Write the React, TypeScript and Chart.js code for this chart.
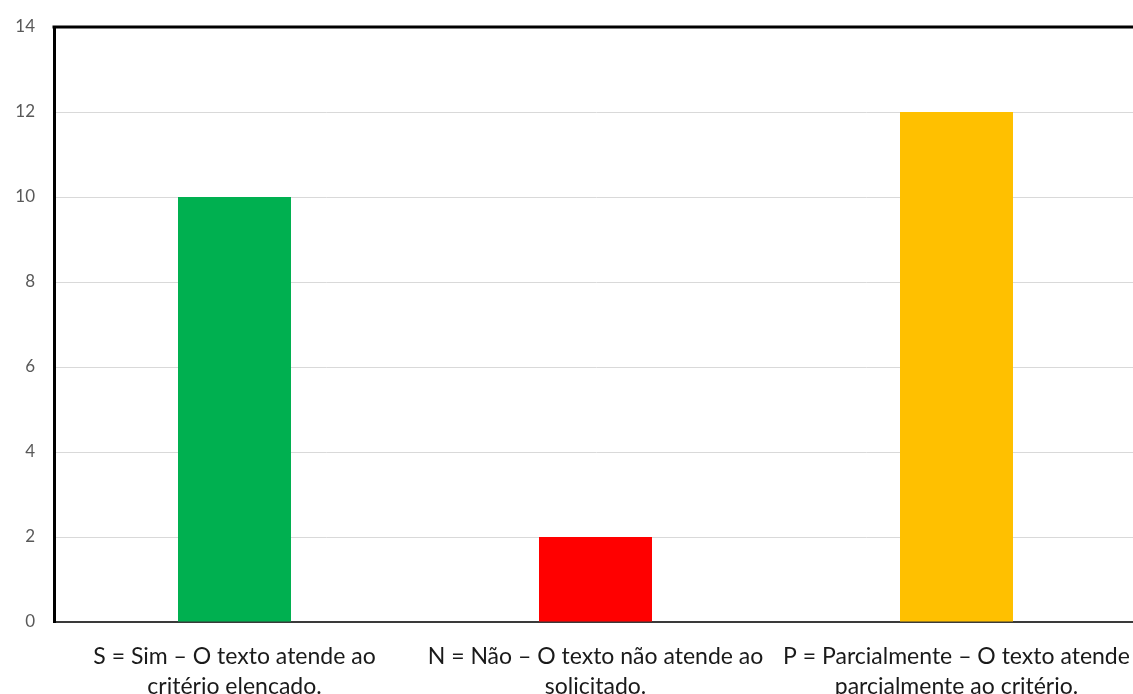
import React, { useEffect, useRef } from "react";
import { Chart, registerables } from "chart.js";

Chart.register(...registerables);

const categories: string[][] = [
  ["S = Sim – O texto atende ao", "critério elencado."],
  ["N = Não – O texto não atende ao", "solicitado."],
  ["P = Parcialmente – O texto atende", "parcialmente ao critério."],
];
const values: number[] = [10, 2, 12];
const barColors: string[] = ["#00B050", "#FF0000", "#FFC000"];
const yTicks: number[] = [0, 2, 4, 6, 8, 10, 12, 14];

const FONT = "Lato, 'Open Sans', 'Liberation Sans', sans-serif";

const topBorder = {
  id: "topBorder",
  afterDraw(chart: any) {
    const { ctx, chartArea } = chart;
    ctx.save();
    ctx.strokeStyle = "#000000";
    ctx.lineWidth = 3;
    ctx.beginPath();
    ctx.moveTo(chartArea.left - 1.5, chartArea.top);
    ctx.lineTo(chartArea.right + 10, chartArea.top);
    ctx.stroke();
    ctx.restore();
  },
};

export default function App() {
  const ref = useRef<HTMLCanvasElement | null>(null);
  useEffect(() => {
    document.documentElement.style.overflow = "hidden";
    document.body.style.overflow = "hidden";
    document.body.style.margin = "0";
    const canvas = ref.current;
    if (!canvas) return;
    const chart = new Chart(canvas, {
      type: "bar",
      data: {
        labels: categories,
        datasets: [
          {
            data: values,
            backgroundColor: barColors,
            borderWidth: 0,
            barPercentage: 0.313,
            categoryPercentage: 1,
          },
        ],
      },
      plugins: [topBorder],
      options: {
        responsive: false,
        animation: false,
        maintainAspectRatio: false,
        layout: { padding: { top: 27, right: 0, left: 0, bottom: 0 } },
        plugins: {
          legend: { display: false },
          tooltip: { enabled: false },
        },
        scales: {
          x: {
            grid: { display: false, drawTicks: false },
            border: { display: true, color: "#3a3a3a", width: 2 },
            ticks: {
              color: "#1a1a1a",
              font: { family: FONT, size: 23, lineHeight: 1.3 },
              padding: 20,
              maxRotation: 0,
              autoSkip: false,
            },
            afterFit(scale: any) {
              scale.height = 98;
              scale.paddingLeft = 0;
              scale.paddingRight = 0;
            },
          },
          y: {
            min: 0,
            max: 14,
            afterBuildTicks(scale: any) {
              scale.ticks = yTicks.map((v) => ({ value: v }));
            },
            grid: { color: "#d9d9d9", lineWidth: 1, drawTicks: false },
            border: { display: true, color: "#000000", width: 3 },
            ticks: {
              color: "#595959",
              font: { family: FONT, size: 17 },
              padding: 19,
            },
            afterFit(scale: any) {
              scale.width = 54;
              scale.paddingTop = 0;
              scale.paddingBottom = 0;
            },
          },
        },
      },
    });
    return () => chart.destroy();
  }, []);
  return (
    <div style={{ position: "absolute", left: 0, top: 0, width: 1137, height: 720 }}>
      <canvas ref={ref} width={1137} height={720} style={{ display: "block" }} />
    </div>
  );
}
